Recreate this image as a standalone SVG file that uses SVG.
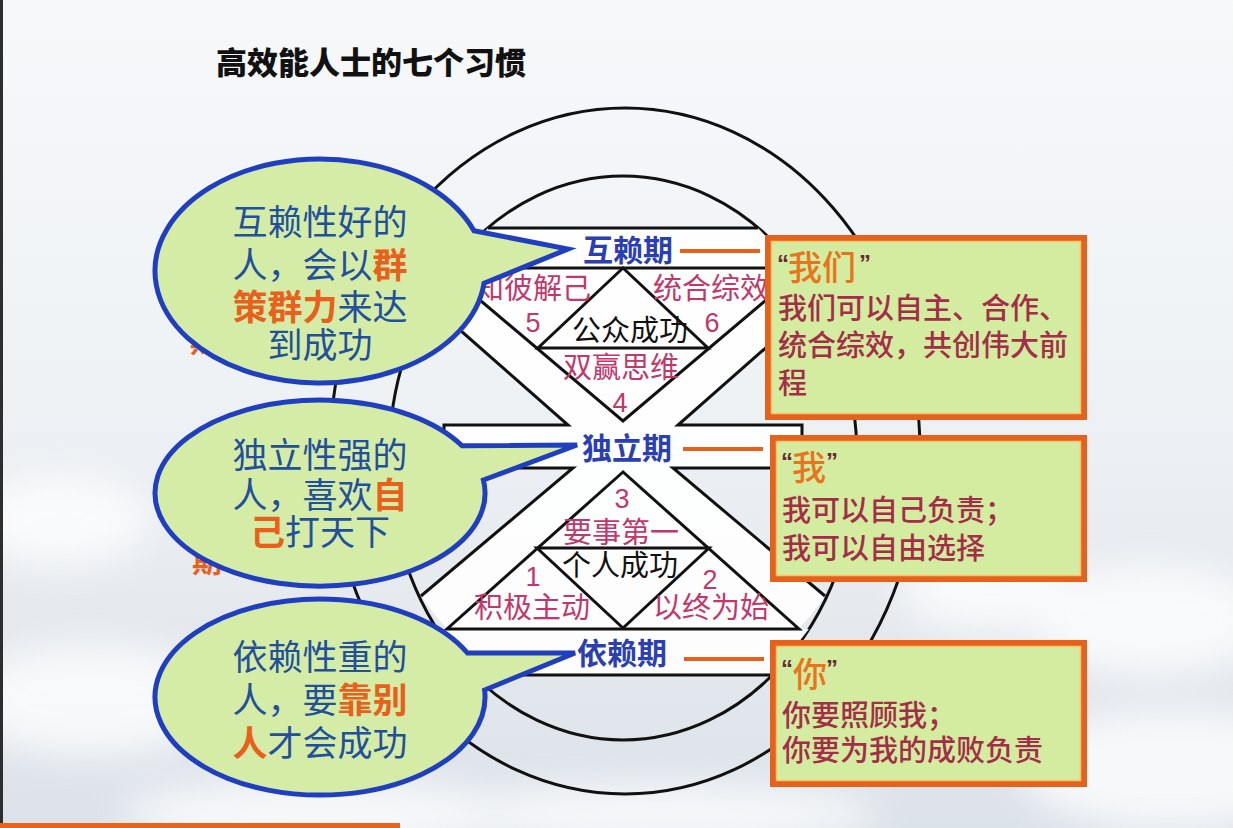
<svg xmlns="http://www.w3.org/2000/svg" width="1233" height="828" viewBox="0 0 1233 828">
<defs>
<linearGradient id="bg" x1="0" y1="0" x2="0" y2="1">
<stop offset="0" stop-color="#f6f8fa"/>
<stop offset="0.45" stop-color="#eff2f5"/>
<stop offset="0.75" stop-color="#e5e9ee"/>
<stop offset="1" stop-color="#dce2e9"/>
</linearGradient>
<filter id="blur" x="-50%" y="-50%" width="200%" height="200%"><feGaussianBlur stdDeviation="18"/></filter>
<style>
.ln{fill:none;stroke:#111;stroke-width:3;stroke-linejoin:miter}
.wf{fill:#ffffff;fill-opacity:0.9;stroke:none}
.bub{fill:#d5eca6;stroke:#1f3fc0;stroke-width:5;stroke-linejoin:miter}
.bt{font-family:"Noto Sans CJK SC","Noto Sans",sans-serif;font-size:35px;fill:#22509c;text-anchor:middle}
.hl{fill:#e8601c;font-weight:bold}
.stage{font-family:"Noto Sans CJK SC","Noto Sans",sans-serif;font-size:30px;font-weight:bold;fill:#2b3fb2;text-anchor:middle}
.hab{font-family:"Noto Sans CJK SC","Noto Sans",sans-serif;font-size:29px;fill:#c2386a;text-anchor:middle}
.num{font-family:"Liberation Sans",Arial,sans-serif;font-size:27px;fill:#c2386a;text-anchor:middle}
.blk{fill:#111111}
.box{fill:#d3eca0;stroke:#e4621c;stroke-width:6}
.boxin{fill:none;stroke:#f7c470;stroke-width:1.5}
.bx{font-family:"Noto Sans CJK SC","Noto Sans",sans-serif;font-size:29px;font-weight:500;fill:#a32e4a}
.hd{font-family:"Noto Sans CJK SC","Noto Sans",sans-serif;font-size:34px;font-weight:500;fill:#e8741e}
.q{font-family:"Liberation Sans",Arial,sans-serif;font-size:24px;font-weight:bold;fill:#6a2a30}
.dash{stroke:#e8601c;stroke-width:4;fill:none}
.frag{font-family:"Noto Sans CJK SC",sans-serif;font-size:30px;font-weight:bold;fill:#e8601c}
.title{font-family:"Noto Sans CJK SC","Noto Sans",sans-serif;font-size:31px;font-weight:900;fill:#111}
</style>
</defs>

<g id="background">
<rect x="0" y="0" width="1233" height="828" fill="url(#bg)"/>
<g filter="url(#blur)" fill="#ffffff" opacity="0.75">
<ellipse cx="1150" cy="620" rx="120" ry="55"/>
<ellipse cx="990" cy="590" rx="90" ry="40"/>
<ellipse cx="1170" cy="770" rx="150" ry="60"/>
<ellipse cx="90" cy="700" rx="130" ry="55"/>
<ellipse cx="60" cy="520" rx="90" ry="45"/>
<ellipse cx="320" cy="815" rx="200" ry="35"/>
<ellipse cx="660" cy="815" rx="220" ry="30"/>
</g>
<rect x="0" y="0" width="3" height="828" fill="#2e2e2e"/>
<rect x="0" y="823" width="400" height="5" fill="#e8641e"/>
</g>

<g id="title">
<text class="title" x="216" y="74">高效能人士的七个习惯</text>
</g>

<g id="hidden-fragments">
<text class="frag" x="190" y="352">期</text>
<text class="frag" x="192" y="572">期</text>
</g>

<g id="rings">
<ellipse class="ln" cx="625" cy="451" rx="295" ry="343"/>
<ellipse class="ln" cx="623" cy="458" rx="234" ry="282"/>
</g>

<g id="central-figure">
<polygon class="wf" points="488,228 758,228 796,268 450,268"/>
<polygon class="wf" points="442,268 804,268 623,421"/>
<polygon class="wf" points="442,268 623,421 623,425 568,425 427,301"/>
<polygon class="wf" points="804,268 623,421 623,425 678,425 819,301"/>
<rect class="wf" x="444" y="425" width="358" height="43"/>
<polygon class="wf" points="573,468 673,468 825,596 811,615 799,629 447,629 435,615 421,596"/>
<polygon class="wf" points="437,629 809,629 773,675 473,675"/>

<path class="ln" d="M488,228 H758"/>
<path class="ln" d="M450,268 H796"/>
<path class="ln" d="M442,268 L623,421 L804,268"/>
<path class="ln" d="M623,268 L538,348 H708 Z"/>
<path class="ln" d="M427,301 L568,425 H444 V468 H573 L421,596"/>
<path class="ln" d="M819,301 L678,425 H802 V468 H673 L825,596"/>
<path class="ln" d="M623,472 L447,629 H799 Z"/>
<path class="ln" d="M537,548 H709 L623,628 Z"/>
<path class="ln" d="M473,675 H773"/>
</g>

<g id="habits">
<text class="hab" x="591" y="299" style="text-anchor:end">知彼解己</text>
<text class="num" x="533" y="332">5</text>
<text class="hab" x="653" y="299" style="text-anchor:start">统合综效</text>
<text class="num" x="712" y="332">6</text>
<text class="hab blk" x="630" y="341">公众成功</text>
<text class="hab" x="621" y="378">双赢思维</text>
<text class="num" x="620" y="412">4</text>
<text class="num" x="622" y="508">3</text>
<text class="hab" x="621" y="543">要事第一</text>
<text class="hab blk" x="620" y="576">个人成功</text>
<text class="num" x="533" y="586">1</text>
<text class="num" x="710" y="589">2</text>
<text class="hab" x="532" y="618">积极主动</text>
<text class="hab" x="711" y="618">以终为始</text>
</g>

<g id="bubble-interdependent">
<path class="bub" d="M474,230.8 L568,249 L484,283.3 A165,112 0 1 1 474,230.8 Z"/>
<text class="bt" x="320" y="235">互赖性好的</text>
<text class="bt" x="320" y="278">人，会以<tspan class="hl">群</tspan></text>
<text class="bt" x="320" y="320"><tspan class="hl">策群力</tspan>来达</text>
<text class="bt" x="320" y="358">到成功</text>
</g>

<g id="bubble-independent">
<path class="bub" d="M462,445.7 L577,445 L483.4,480 A165,93 0 1 1 462,445.7 Z"/>
<text class="bt" x="320" y="468">独立性强的</text>
<text class="bt" x="320" y="508">人，喜欢<tspan class="hl">自</tspan></text>
<text class="bt" x="320" y="545"><tspan class="hl">己</tspan>打天下</text>
</g>

<g id="bubble-dependent">
<path class="bub" d="M467.4,653 L575,653 L484.6,690 A165,98 0 1 1 467.4,653 Z"/>
<text class="bt" x="320" y="670">依赖性重的</text>
<text class="bt" x="320" y="713">人，要<tspan class="hl">靠别</tspan></text>
<text class="bt" x="320" y="756"><tspan class="hl">人</tspan>才会成功</text>
</g>

<g id="stage-labels">
<text class="stage" x="628" y="261">互赖期</text>
<text class="stage" x="627" y="459">独立期</text>
<text class="stage" x="622" y="664">依赖期</text>
</g>

<g id="connectors">
<path class="dash" d="M680,251 H760"/>
<path class="dash" d="M683,449 H763"/>
<path class="dash" d="M684,659 H764"/>
</g>

<g id="box-we">
<rect class="box" x="768" y="238" width="316" height="179"/>
<rect class="boxin" x="771.5" y="241.5" width="309" height="172"/>
<text class="q" x="777" y="272">“</text>
<text class="hd" x="788" y="280">我们</text>
<text class="q" x="859" y="272">”</text>
<text class="bx" x="778" y="319">我们可以自主、合作、</text>
<text class="bx" x="778" y="356">统合综效，共创伟大前</text>
<text class="bx" x="778" y="394">程</text>
</g>

<g id="box-i">
<rect class="box" x="773" y="438" width="311" height="141"/>
<rect class="boxin" x="776.5" y="441.5" width="304" height="134"/>
<text class="q" x="781" y="470">“</text>
<text class="hd" x="792" y="480">我</text>
<text class="q" x="826" y="470">”</text>
<text class="bx" x="782" y="521">我可以自己负责；</text>
<text class="bx" x="782" y="559">我可以自由选择</text>
</g>

<g id="box-you">
<rect class="box" x="773" y="643" width="311" height="141"/>
<rect class="boxin" x="776.5" y="646.5" width="304" height="134"/>
<text class="q" x="781" y="677">“</text>
<text class="hd" x="793" y="687">你</text>
<text class="q" x="826" y="677">”</text>
<text class="bx" x="782" y="726">你要照顾我；</text>
<text class="bx" x="782" y="761">你要为我的成败负责</text>
</g>
</svg>
